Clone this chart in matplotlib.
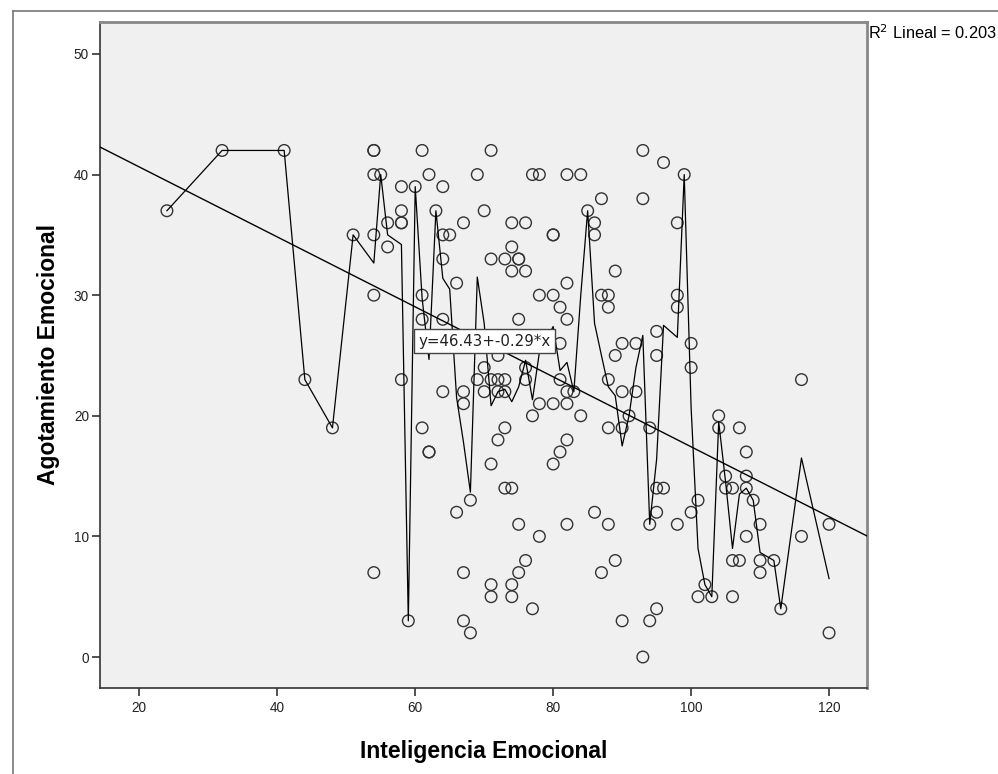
import matplotlib
matplotlib.use("Agg")
import matplotlib.pyplot as plt
import numpy as np
import pandas as pd
from matplotlib.lines import Line2D

# Inteligencia Emocional (x) / Agotamiento Emocional (y), one entry per case
inteligencia = [
    24, 32, 41, 44, 48, 51,
    54, 54, 54, 54, 54, 54, 55, 56, 56,
    58, 58, 58, 58, 58, 59, 60,
    61, 61, 61, 61, 62, 62, 62, 63,
    64, 64, 64, 64, 64, 65, 65, 66, 66,
    67, 67, 67, 67, 67, 68, 68, 68, 69, 69,
    70, 70, 70, 71, 71, 71, 71, 71, 71,
    72, 72, 72, 72, 73, 73, 73, 73, 73,
    74, 74, 74, 74, 74, 74, 75, 75, 75, 75, 75,
    76, 76, 76, 76, 76, 77, 77, 77, 78, 78, 78, 78,
    80, 80, 80, 80, 80, 81, 81, 81, 81,
    82, 82, 82, 82, 82, 82, 82, 83, 84, 84, 85,
    86, 86, 86, 87, 87, 87, 88, 88, 88, 88, 88,
    89, 89, 89, 90, 90, 90, 90, 91, 92, 92,
    93, 93, 93, 94, 94, 94, 95, 95, 95, 95, 95,
    96, 96, 98, 98, 98, 98, 99, 100, 100, 100,
    101, 101, 102, 103, 104, 104, 105, 105, 106, 106, 106,
    107, 107, 108, 108, 108, 108, 109, 110, 110, 110,
    112, 113, 116, 116, 120, 120,
]
agotamiento = [
    37, 42, 42, 23, 19, 35,
    42, 42, 40, 35, 30, 7, 40, 36, 34,
    39, 37, 36, 36, 23, 3, 39,
    42, 30, 28, 19, 40, 17, 17, 37,
    39, 35, 33, 28, 22, 35, 26, 31, 12,
    36, 22, 21, 7, 3, 13, 2, 26, 40, 23,
    37, 24, 22, 42, 33, 23, 16, 6, 5,
    25, 23, 22, 18, 33, 23, 22, 19, 14,
    36, 34, 32, 14, 6, 5, 33, 33, 28, 11, 7,
    36, 32, 24, 23, 8, 40, 20, 4, 40, 30, 21, 10,
    35, 35, 30, 21, 16, 29, 26, 23, 17,
    40, 31, 28, 22, 21, 18, 11, 22, 40, 20, 37,
    36, 35, 12, 38, 30, 7, 30, 29, 23, 19, 11,
    32, 25, 8, 26, 22, 19, 3, 20, 26, 22,
    42, 38, 0, 19, 11, 3, 27, 25, 14, 12, 4,
    41, 14, 36, 30, 29, 11, 40, 26, 24, 12,
    13, 5, 6, 5, 20, 19, 15, 14, 14, 8, 5,
    19, 8, 17, 15, 14, 10, 13, 11, 8, 7,
    8, 4, 23, 10, 11, 2,
]

# linear fit reported by SPSS
intercept = 46.43
slope = -0.29
r2 = 0.203

x_ticks = [20, 40, 60, 80, 100, 120]
y_ticks = [0, 10, 20, 30, 40, 50]

df = pd.DataFrame({"x": inteligencia, "y": agotamiento})
means = df.groupby("x")["y"].mean()

fig = plt.figure(figsize=(9.98, 7.74), dpi=100)
ax = fig.add_axes([100 / 998, 1 - 688 / 774, 767 / 998, 666 / 774])
ax.set_facecolor("#f0f0f0")

ax.scatter(df["x"], df["y"], s=70, facecolors="none", edgecolors="#333333",
           linewidths=1.0, zorder=3)
ax.plot(means.index, means.values, color="black", lw=0.9, zorder=4)

xlim = (14.3, 125.5)
fit_x = np.array(xlim)
ax.plot(fit_x, intercept + slope * fit_x, color="black", lw=1.0, zorder=4)

ax.text(70.0, 26.2, f"y={intercept:.2f}+{slope:.2f}*x", ha="center", va="center",
        fontsize=10.8, family="DejaVu Sans", color="#222222", zorder=6,
        bbox=dict(boxstyle="square,pad=0.28", fc="white", ec="#444444", lw=1.0))

ax.set_xlim(*xlim)
ax.set_ylim(-2.57, 52.65)
ax.set_xticks(x_ticks)
ax.set_yticks(y_ticks)
ax.tick_params(axis="both", direction="out", length=6, width=1.2, color="#333333",
               labelsize=9.8, labelcolor="#222222")
ax.tick_params(axis="y", pad=2)
for lbl in ax.get_xticklabels() + ax.get_yticklabels():
    lbl.set_family("Liberation Sans")

for side in ["left", "bottom"]:
    ax.spines[side].set_color("#333333")
    ax.spines[side].set_linewidth(1.2)
for side in ["top", "right"]:
    ax.spines[side].set_color("#888888")
    ax.spines[side].set_linewidth(2.0)

ax.set_xlabel("Inteligencia Emocional", fontsize=16.5, fontweight="bold",
              family="Liberation Sans", labelpad=18)
ax.set_ylabel("Agotamiento Emocional", fontsize=16.5, fontweight="bold",
              family="Liberation Sans", labelpad=10)

fig.text(868 / 998, 1 - 33 / 774, f"R$^2$ Lineal = {r2:.3f}", ha="left", va="center",
         fontsize=11.8, family="Liberation Sans")

# outer chart frame
fig.add_artist(Line2D([13 / 998, 13 / 998], [0, 1 - 11 / 774], color="#777777", lw=1.2))
fig.add_artist(Line2D([13 / 998, 1], [1 - 11 / 774, 1 - 11 / 774], color="#777777", lw=1.2))

fig.savefig("out.png", dpi=100)
